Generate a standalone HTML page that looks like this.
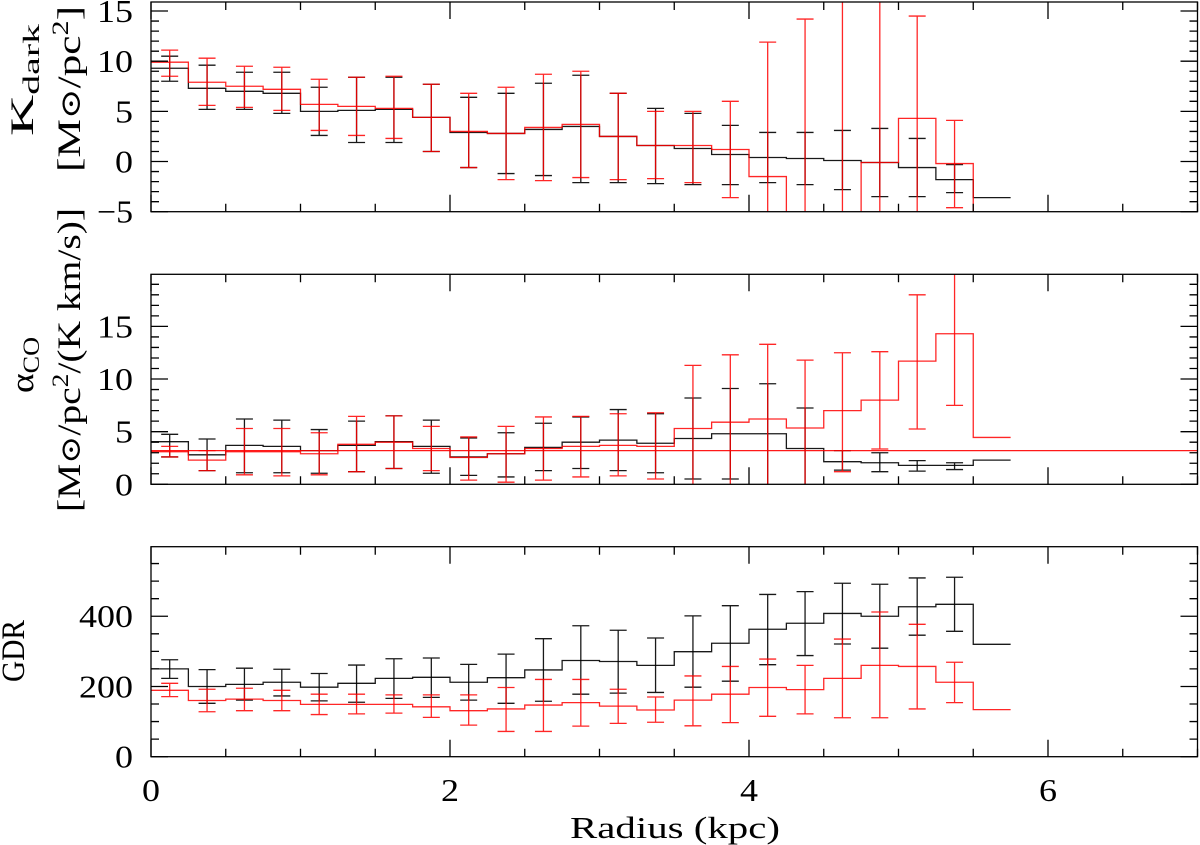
<!DOCTYPE html>
<html><head><meta charset="utf-8"><style>
html,body{margin:0;padding:0;background:#fff;}
svg{display:block;font-family:"Liberation Serif","DejaVu Serif",serif;}
</style></head><body>
<svg id="chart" width="1200" height="845" viewBox="0 0 1200 845" xmlns="http://www.w3.org/2000/svg">
<g id="layer"></g>
<g fill="#000" font-size="33">
<text transform="translate(33,80) rotate(-90)" text-anchor="middle" textLength="112" lengthAdjust="spacingAndGlyphs">K<tspan font-size="23" dy="6">dark</tspan></text>
<text transform="translate(80,89) rotate(-90)" text-anchor="middle" textLength="166" lengthAdjust="spacingAndGlyphs">[M<tspan font-size="28">⊙</tspan>/pc<tspan font-size="23" dy="-12">2</tspan><tspan dy="12">]</tspan></text>
<text transform="translate(33,365) rotate(-90)" text-anchor="middle" textLength="56" lengthAdjust="spacingAndGlyphs">α<tspan font-size="23" dy="6">CO</tspan></text>
<text transform="translate(80,360) rotate(-90)" text-anchor="middle" textLength="304" lengthAdjust="spacingAndGlyphs">[M<tspan font-size="28">⊙</tspan>/pc<tspan font-size="23" dy="-12">2</tspan><tspan dy="12">/(K km/s)]</tspan></text>
<text transform="translate(24,651) rotate(-90)" text-anchor="middle" textLength="62" lengthAdjust="spacingAndGlyphs">GDR</text>
</g>
<text x="675" y="838" font-size="31" text-anchor="middle" textLength="210" lengthAdjust="spacingAndGlyphs">Radius (kpc)</text>
</svg>
<script>
// bins: 0.25 kpc wide
const binEdges = [0,0.25,0.5,0.75,1,1.25,1.5,1.75,2,2.25,2.5,2.75,3,3.25,3.5,3.75,4,4.25,4.5,4.75,5,5.25,5.5,5.75];
// Panel 1: K_dark
const kBlack = [9.3,7.3,7.0,6.8,5.0,5.1,5.2,4.4,2.9,2.8,3.2,3.5,2.5,1.6,1.3,0.7,0.4,0.3,0.1,-0.1,-0.6,-1.8,-3.6];
const kBlackHi = [10.5,9.6,8.9,8.9,7.4,8.4,8.4,7.7,6.4,6.8,7.8,8.6,6.8,5.3,4.8,3.6,2.9,2.9,3.1,3.3,2.3,-0.3,null];
const kBlackLo = [8.0,5.2,5.2,4.8,2.6,1.9,1.9,1.0,-0.6,-1.2,-1.4,-2.1,-2.1,-2.2,-2.3,-2.3,-2.1,-2.3,-2.8,-3.5,-3.5,-3.1,null];
const kRed = [9.9,7.9,7.5,7.2,5.7,5.5,5.3,4.4,3.0,2.8,3.4,3.7,2.5,1.6,1.6,1.2,-1.5,-20,-20,-0.1,4.3,-0.2,-20];
const kRedHi = [11.1,10.3,9.5,9.4,8.2,8.4,8.5,7.7,6.8,7.4,8.7,9.0,6.8,5.0,5.0,6.0,11.9,14.2,30,30,14.5,4.1,null];
const kRedLo = [8.5,5.6,5.4,5.1,3.1,2.6,2.3,1.0,-0.6,-1.8,-1.9,-1.6,-1.8,-1.7,-2.1,-3.6,-30,-30,-30,-30,-30,-4.6,null];
// Panel 2: alpha_CO
const aBlack = [4.05,2.8,3.7,3.6,3.2,3.7,4.05,3.6,2.6,2.9,3.5,4.0,4.2,3.9,4.35,4.8,4.8,3.4,2.15,2.05,1.8,1.8,2.3];
const aBlackHi = [4.75,4.3,6.2,6.1,5.2,6.0,6.5,6.1,4.4,4.9,5.8,6.4,7.1,6.7,8.2,9.1,9.55,7.25,3.2,3.0,2.25,2.05,null];
const aBlackLo = [2.6,1.3,1.1,1.1,1.05,1.2,1.5,1.05,0.85,0.7,1.3,1.5,1.3,1.1,0.5,0.5,-1,-1,1.35,1.2,1.25,1.4,null];
const aRed = [3.1,2.3,3.1,3.1,2.9,3.8,4.0,3.4,2.55,2.9,3.4,3.6,3.7,3.6,5.3,5.9,6.2,5.35,7.0,8.0,11.7,14.3,4.45];
const aRedHi = [3.6,3.2,5.3,5.3,4.9,6.45,6.5,5.5,4.5,5.5,6.4,6.45,6.7,6.8,11.3,12.3,13.3,11.8,12.5,12.6,18.0,21.5,null];
const aRedLo = [2.6,1.3,0.9,0.8,0.9,1.2,1.5,1.3,0.4,0.2,0.4,0.7,0.8,0.5,-1,-1,-1,-1,1.2,3.35,5.25,7.5,null];
const aRefLine = 3.2;
// Panel 3: GDR
const gBlack = [250,200,206,212,198,209,223,226,212,225,247,274,271,260,299,323,363,380,408,400,427,434,320];
const gBlackHi = [276,248,252,249,237,261,279,281,263,292,336,373,360,338,401,430,462,470,494,491,509,511,null];
const gBlackLo = [223,152,161,173,159,155,166,169,161,152,158,178,181,183,198,215,262,288,321,309,346,357,null];
const gRed = [189,160,164,160,149,149,149,142,131,136,147,154,144,133,161,178,197,191,223,260,257,212,134];
const gRedHi = [209,192,195,189,178,178,176,176,176,197,220,220,192,170,230,257,278,260,335,412,377,269,null];
const gRedLo = [171,128,131,131,120,122,124,112,90,72,72,87,95,98,88,97,115,122,111,111,136,154,null];
// tick labels
const xTickLabels = [0,2,4,6];
const kTickLabels = [-5,0,5,10,15];
const aTickLabels = [0,5,10,15];
const gTickLabels = [0,200,400];

const NS = 'http://www.w3.org/2000/svg';
const layer = document.getElementById('layer');
const X0 = 151, XS = 149.5, XMAX = 7;
const xs = v => X0 + v*XS;
function mk(tag, attrs, parent){ const e=document.createElementNS(NS,tag); for(const k in attrs) e.setAttribute(k,attrs[k]); (parent||layer).appendChild(e); return e; }

const panels = [
 {name:'kdark', top:2, bot:211.7, ymin:-5, ymax:15.9, minor:1, major:5, labels:kTickLabels,
  series:[[kBlack,kBlackHi,kBlackLo,'#000'],[kRed,kRedHi,kRedLo,'#f00']]},
 {name:'alphaco', top:274.3, bot:484.3, ymin:0, ymax:19.95, minor:1, major:5, labels:aTickLabels,
  series:[[aBlack,aBlackHi,aBlackLo,'#000'],[aRed,aRedHi,aRedLo,'#f00']], ref:aRefLine},
 {name:'gdr', top:546.7, bot:756.7, ymin:0, ymax:598, minor:50, major:200, labels:gTickLabels,
  series:[[gBlack,gBlackHi,gBlackLo,'#000'],[gRed,gRedHi,gRedLo,'#f00']]}
];

function labelText(parent, x, y, str, anchor){
  // horizontally stretched label to mimic wide Hershey digits
  const w = str.length*18;
  const t = mk('text',{x:x, y:y,'font-size':32,'text-anchor':anchor,fill:'#000',textLength:w,lengthAdjust:'spacingAndGlyphs'},parent);
  t.textContent = str;
  return t;
}

panels.forEach((p,pi)=>{
  const ys = v => p.bot - (v-p.ymin)/(p.ymax-p.ymin)*(p.bot-p.top);
  const g = mk('g',{});
  
  
  const cid='clip'+pi;
  const cp = mk('clipPath',{id:cid},g);
  mk('rect',{x:X0,y:p.top,width:xs(XMAX)-X0,height:p.bot-p.top},cp);
  const data = mk('g',{'clip-path':'url(#'+cid+')'},g);
  
  
  p.series.forEach((s,si)=>{
    const [vals,hi,lo,col]=s;
    let d='M'+xs(binEdges[0])+','+ys(vals[0]);
    for(let i=0;i<vals.length;i++){
      if(i>0) d+=' V'+ys(vals[i]);
      d+=' H'+xs(binEdges[i+1]);
    }
    const path = mk('path',{d:d,fill:'none',stroke:col,'stroke-width':1.3,'stroke-opacity':si?0.85:0.9},data);
    
    
    for(let i=0;i<vals.length;i++){
      if(hi[i]===null) continue;
      const cx = xs((binEdges[i]+binEdges[i+1])/2);
      const eb = mk('path',{d:'M'+cx+','+ys(lo[i])+' V'+ys(hi[i])+' M'+(cx-8.5)+','+ys(lo[i])+' h17 M'+(cx-8.5)+','+ys(hi[i])+' h17',
        fill:'none',stroke:col,'stroke-width':1.3,'stroke-opacity':si?0.85:0.9},data);
      
      
    }
  });
  if(p.ref!==undefined){
    const rl = mk('line',{x1:X0,x2:xs(XMAX),y1:ys(p.ref),y2:ys(p.ref),stroke:'#f00','stroke-width':1.3,'stroke-opacity':0.9},data);
    
    
  }
  const fr = mk('rect',{x:X0,y:p.top,width:xs(XMAX)-X0,height:p.bot-p.top,fill:'none',stroke:'#000','stroke-width':1.3},g);
  
  
  let td='';
  for(let v=0; v<=XMAX+1e-6; v+=0.5){
    const x=xs(v), L = (Math.abs(v/2-Math.round(v/2))<1e-6)?17:8;
    td+='M'+x+','+p.bot+' v-'+L+' M'+x+','+p.top+' v'+L+' ';
  }
  const start = Math.ceil(p.ymin/p.minor)*p.minor;
  for(let v=start; v<=p.ymax+1e-6; v+=p.minor){
    const y=ys(v), L=(Math.abs(v/p.major-Math.round(v/p.major))<1e-6)?17:8;
    td+='M'+X0+','+y+' h'+L+' M'+xs(XMAX)+','+y+' h-'+L+' ';
  }
  const tk = mk('path',{d:td,stroke:'#000','stroke-width':1.3,fill:'none'},g);
  
  
  p.labels.forEach(v=>{
    const str = v<0 ? '\u2212'+Math.abs(v) : String(v);
    const t = labelText(g, 133, ys(v)+11, str, 'end');
    
    
  });
});
xTickLabels.forEach(v=>{
  const t = labelText(layer, xs(v), 801, String(v), 'middle');
  
  
});
</script>
</body></html>
